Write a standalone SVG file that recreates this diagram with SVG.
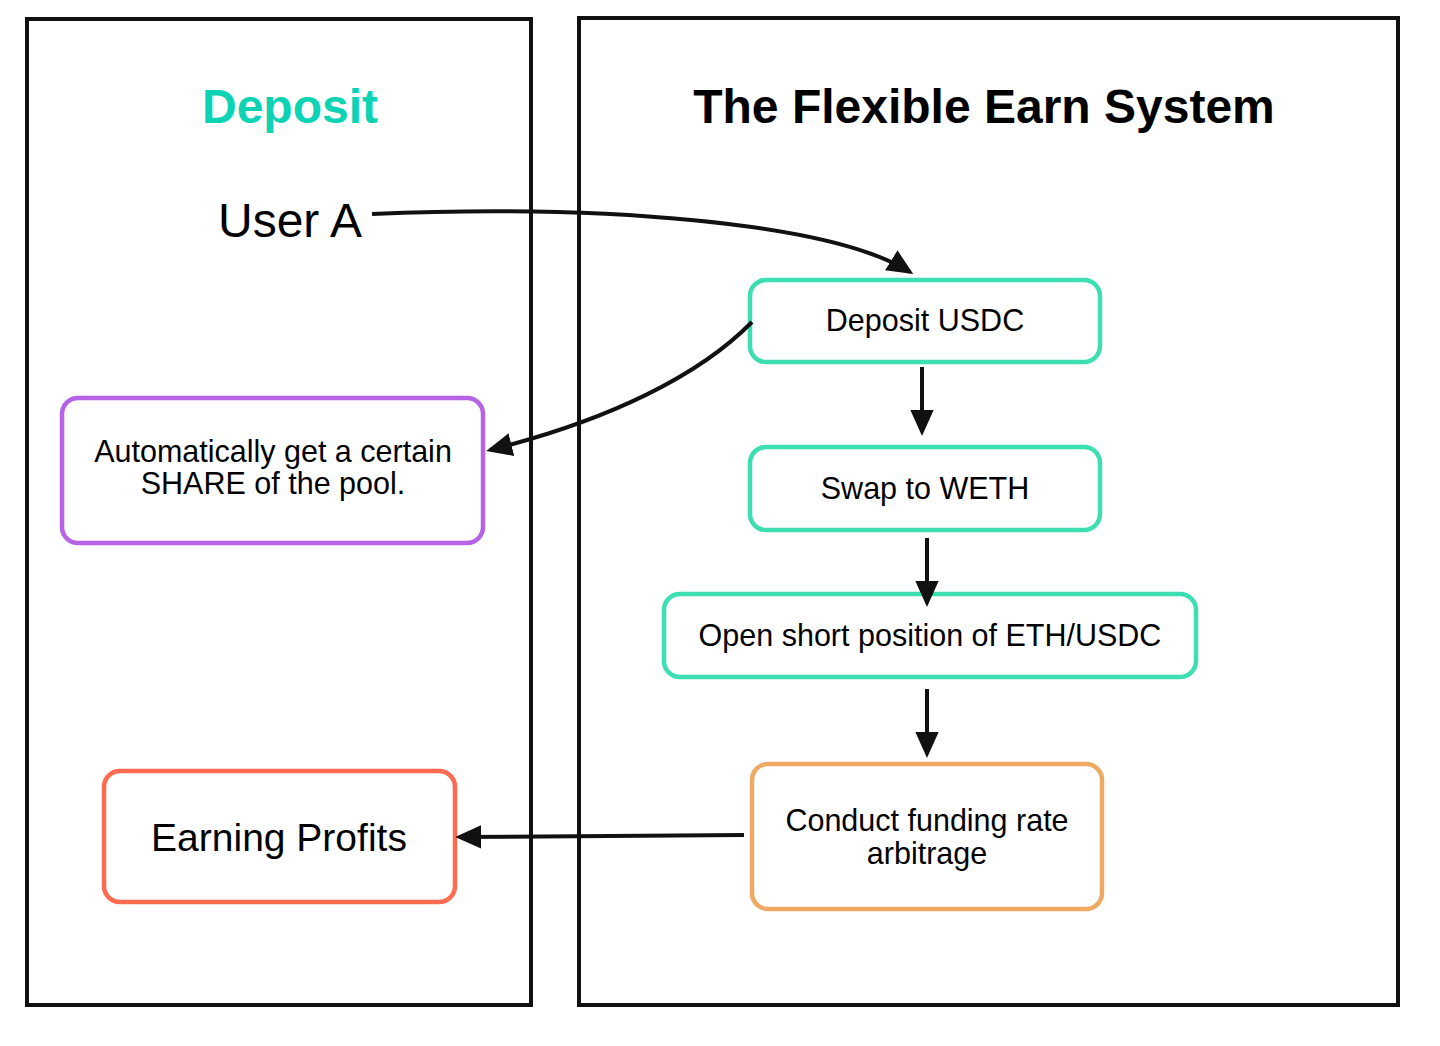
<svg xmlns="http://www.w3.org/2000/svg" width="1440" height="1046" viewBox="0 0 1440 1046">
  <style>
    .panel { fill: none; stroke: #111; stroke-width: 4; }
    .box { fill: #fff; stroke-width: 4.5; }
    .teal { stroke: #3ddfb2; }
    .purple { stroke: #b763e8; }
    .red { stroke: #ff6a50; }
    .orange { stroke: #eeaa62; }
    .lbl { font-family: "Liberation Sans", Arial, sans-serif; font-size: 30.5px; fill: #000; text-anchor: middle; }
    .title { font-family: "Liberation Sans", Arial, sans-serif; font-weight: bold; font-size: 48px; text-anchor: middle; }
    .conn { fill: none; stroke: #111; stroke-width: 4; }
  </style>
  <defs>
    <marker id="arrow" viewBox="0 0 20 20" refX="17" refY="10" markerWidth="26" markerHeight="26" markerUnits="userSpaceOnUse" orient="auto">
      <path d="M0,1 L20,10 L0,19 Z" fill="#111"/>
    </marker>
  </defs>
  <rect width="1440" height="1046" fill="#fff"/>

  <g id="panel-deposit">
    <rect class="panel" x="27" y="19" width="504" height="986"/>
    <text class="title" x="290" y="123" fill="#0dd3b5">Deposit</text>
  </g>
  <g id="panel-system">
    <rect class="panel" x="579" y="18" width="819" height="987"/>
    <text class="title" x="984" y="123" fill="#000">The Flexible Earn System</text>
  </g>

  <g id="user-a">
    <text x="290" y="237" font-family="Liberation Sans, Arial, sans-serif" font-size="48" text-anchor="middle" fill="#000">User A</text>
  </g>

  <g id="deposit-usdc">
    <rect class="box teal" x="750" y="280" width="350" height="82" rx="16"/>
    <text class="lbl" x="925" y="331">Deposit USDC</text>
  </g>
  <g id="swap-weth">
    <rect class="box teal" x="750" y="447" width="350" height="83" rx="16"/>
    <text class="lbl" x="925" y="499">Swap to WETH</text>
  </g>
  <g id="open-short">
    <rect class="box teal" x="664" y="594" width="532" height="83" rx="16"/>
    <text class="lbl" x="930" y="646">Open short position of ETH/USDC</text>
  </g>
  <g id="arbitrage">
    <rect class="box orange" x="752" y="764" width="350" height="145" rx="16"/>
    <text class="lbl" x="927" y="831">Conduct funding rate</text>
    <text class="lbl" x="927" y="864">arbitrage</text>
  </g>
  <g id="share">
    <rect class="box purple" x="62" y="398" width="421" height="145" rx="16"/>
    <text class="lbl" x="273" y="462">Automatically get a certain</text>
    <text class="lbl" x="273" y="494">SHARE of the pool.</text>
  </g>
  <g id="earning">
    <rect class="box red" x="104" y="771" width="351" height="131" rx="16"/>
    <text class="lbl" x="279" y="851" style="font-size:39px">Earning Profits</text>
  </g>

  <g id="connectors">
    <path class="conn" d="M372,214 C 600,204 830,222 910,272" marker-end="url(#arrow)"/>
    <path class="conn" d="M752,322 C 700,375 610,420 490,450" marker-end="url(#arrow)"/>
    <path class="conn" d="M922,367 L922,432" marker-end="url(#arrow)"/>
    <path class="conn" d="M927,538 L927,603" marker-end="url(#arrow)"/>
    <path class="conn" d="M927,689 L927,754" marker-end="url(#arrow)"/>
    <path class="conn" d="M744,835 L459,837" marker-end="url(#arrow)"/>
  </g>
</svg>
